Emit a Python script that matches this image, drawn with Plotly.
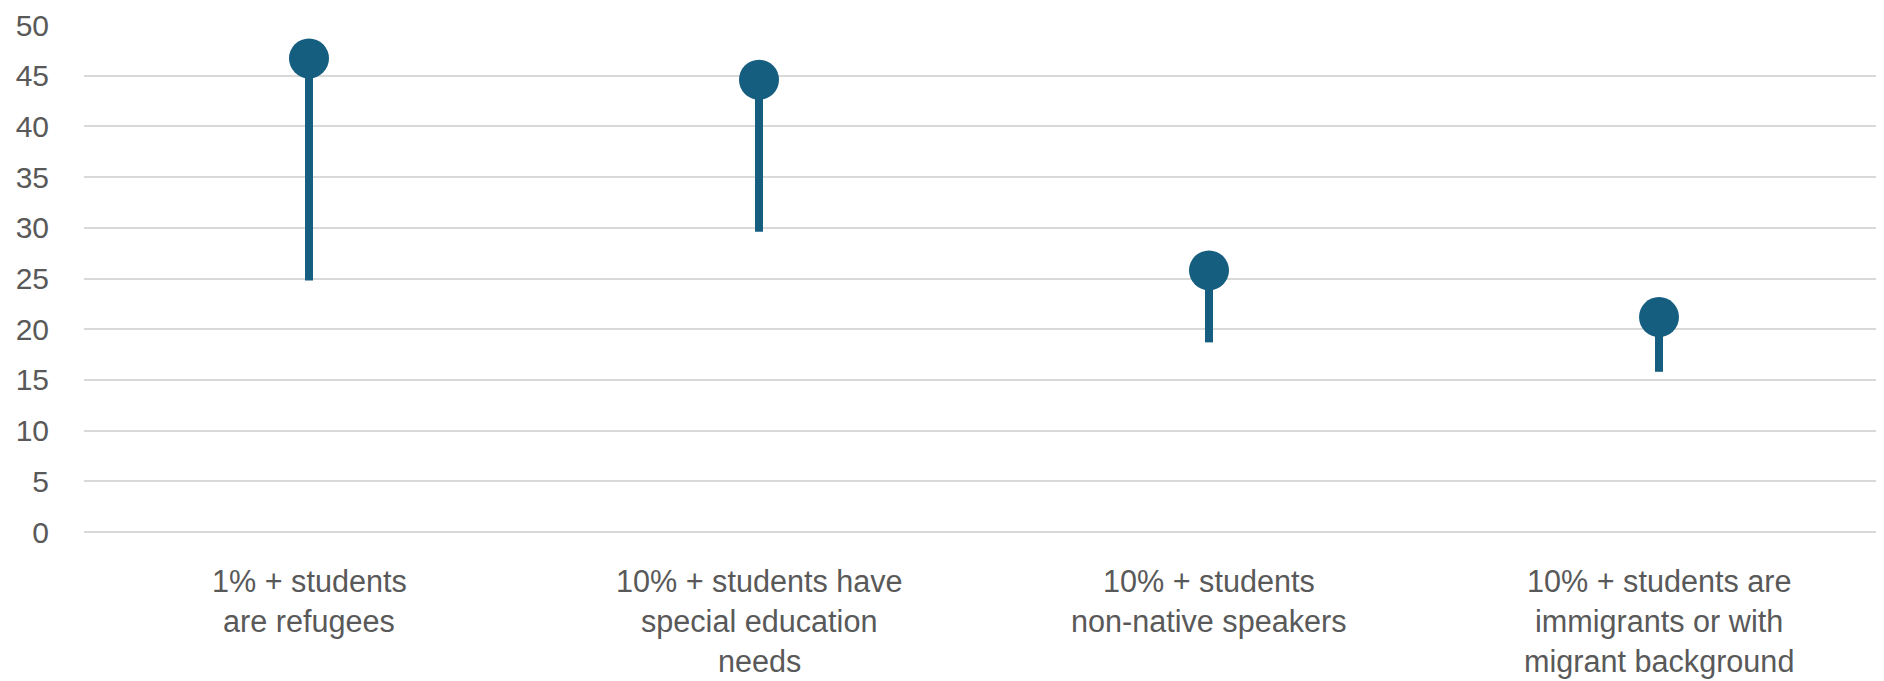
import plotly.graph_objects as go

categories = [
    "1% + students<br>are refugees",
    "10% + students have<br>special education<br>needs",
    "10% + students<br>non-native speakers",
    "10% + students are<br>immigrants or with<br>migrant background",
]
top_values = [46.7, 44.6, 25.8, 21.2]
low_values = [24.8, 29.6, 18.7, 15.8]
y_ticks = [0, 5, 10, 15, 20, 25, 30, 35, 40, 45, 50]

COLOR = "#165E80"
TEXT = "#595959"
FONT = "Arial Narrow, Liberation Sans, Arial, sans-serif"
xpos = list(range(len(categories)))

stem_x, stem_y = [], []
for i, (lo, hi) in enumerate(zip(low_values, top_values)):
    stem_x += [i, i, None]
    stem_y += [lo, hi, None]

fig = go.Figure()
fig.add_trace(go.Scatter(
    x=stem_x, y=stem_y, mode="lines",
    line=dict(color=COLOR, width=8),
    hoverinfo="skip", showlegend=False,
))
fig.add_trace(go.Scatter(
    x=xpos, y=top_values, mode="markers",
    marker=dict(color=COLOR, size=40, line=dict(width=0)),
    showlegend=False,
))

# category labels, one annotation per line for tighter line spacing
for i, cat in enumerate(categories):
    for j, line in enumerate(cat.split("<br>")):
        fig.add_annotation(
            x=i, xref="x", y=0, yref="paper",
            text=line, showarrow=False,
            xanchor="center", yanchor="middle",
            yshift=-49 - 40 * j,
            font=dict(family=FONT, size=30.6, color=TEXT),
        )

# page body has an 8px margin, compensate so the plot sits where the reference's does
fig.update_layout(
    width=1876, height=673,
    margin=dict(l=76, r=0, t=17, b=149),
    plot_bgcolor="white", paper_bgcolor="white",
    font=dict(family=FONT, size=30, color=TEXT),
    xaxis=dict(
        range=[-0.5, len(categories) - 0.5],
        showticklabels=False, automargin=False,
        showgrid=False, zeroline=False, showline=False, ticks="",
    ),
    yaxis=dict(
        range=[0, 50], tickvals=y_ticks, automargin=False,
        showgrid=True, gridcolor="#D9D9D9", gridwidth=2,
        zeroline=True, zerolinecolor="#D9D9D9", zerolinewidth=2,
        showline=False, ticks="", ticklabelstandoff=34,
        tickfont=dict(family=FONT, size=30, color=TEXT),
    ),
)

fig.write_html("out.html")
